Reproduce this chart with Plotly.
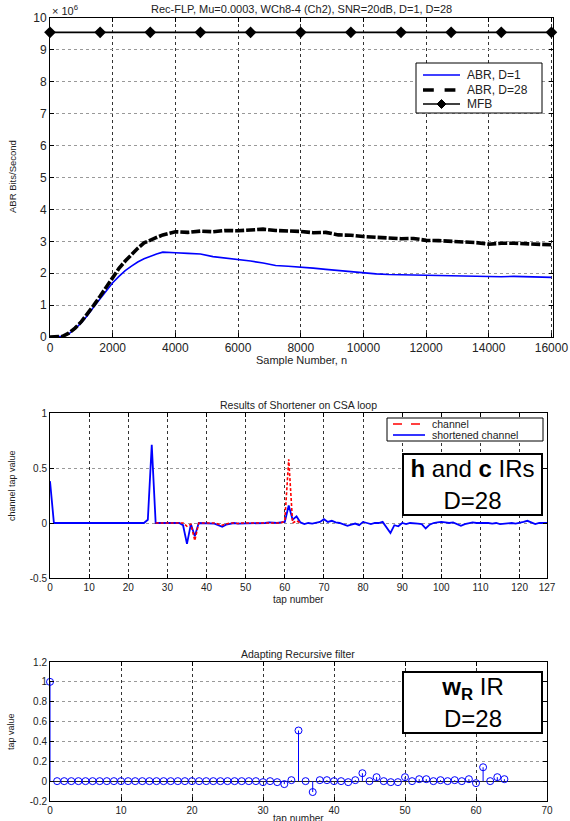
import plotly.graph_objects as go

W, H = 570, 821
FONT = "Liberation Sans, Arial, sans-serif"

# ---------------- Top chart data (ABR in units of 1e6 bits/s) ----------------
sample_n = [0, 200, 400, 600, 800, 1000, 1200, 1400, 1600, 1800, 2000, 2200, 2400, 2600,
            2800, 3000, 3200, 3400, 3600, 3800, 4000, 4400, 4800, 5200, 5600, 6000, 6400,
            6800, 7200, 7600, 8000, 8400, 8800, 9200, 9600, 10000, 10400, 10800, 11200,
            11600, 12000, 12400, 12800, 13200, 13600, 14000, 14400, 14800, 15200, 15600, 16000]
abr_d1 = [0.0, 0.0, 0.02, 0.10, 0.25, 0.45, 0.68, 0.95, 1.20, 1.45, 1.70, 1.90, 2.08, 2.22,
          2.35, 2.45, 2.53, 2.60, 2.66, 2.64, 2.64, 2.62, 2.60, 2.52, 2.48, 2.44, 2.38,
          2.32, 2.24, 2.22, 2.20, 2.16, 2.12, 2.08, 2.04, 2.00, 1.98, 1.96, 1.95,
          1.94, 1.93, 1.92, 1.92, 1.92, 1.91, 1.90, 1.89, 1.90, 1.89, 1.88, 1.87]
abr_d28 = [0.0, 0.0, 0.02, 0.12, 0.28, 0.48, 0.72, 1.00, 1.28, 1.58, 1.88, 2.15, 2.38, 2.60,
           2.78, 2.95, 3.02, 3.12, 3.20, 3.24, 3.30, 3.28, 3.32, 3.30, 3.34, 3.33, 3.36,
           3.38, 3.34, 3.33, 3.31, 3.27, 3.28, 3.20, 3.19, 3.15, 3.13, 3.12, 3.08,
           3.09, 3.03, 3.02, 3.00, 2.98, 2.96, 2.91, 2.94, 2.94, 2.93, 2.92, 2.89]
mfb_n = [0, 1600, 3200, 4800, 6400, 8000, 9600, 11200, 12800, 14400, 16000]
mfb_val = [9.55] * 11
top_yticks = [0, 1, 2, 3, 4, 5, 6, 7, 8, 9, 10]
top_xticks = [0, 2000, 4000, 6000, 8000, 10000, 12000, 14000, 16000]
top_legend_labels = ["ABR, D=1", "ABR, D=28", "MFB"]

# ---------------- Middle chart data ----------------
shortened_channel = [
    0.38, 0.0, 0.0, 0.0, 0.0, 0.0, 0.0, 0.0, 0.0, 0.0,            # 0-9
    0.0, 0.0, 0.0, 0.0, 0.0, 0.0, 0.0, 0.0, 0.0, 0.0,             # 10-19
    0.0, 0.0, 0.0, 0.0, 0.0, 0.03, 0.71, 0.0, 0.0, 0.0,           # 20-29
    0.0, 0.0, 0.005, 0.0, -0.02, -0.19, -0.01, -0.12, 0.0, 0.0,   # 30-39
    0.0, 0.0, -0.005, -0.02, -0.035, -0.015, -0.005, 0.0, -0.005, -0.005,  # 40-49
    0.0, -0.005, 0.0, 0.0, -0.005, 0.0, 0.005, 0.0, 0.0, 0.005,   # 50-59
    0.01, 0.16, 0.03, 0.06, 0.005, -0.01, 0.0, -0.005, 0.0, 0.01, # 60-69
    0.035, 0.01, 0.02, 0.005, 0.0, -0.01, -0.025, -0.015, -0.005, -0.02,  # 70-79
    0.01, 0.0, -0.01, 0.0, 0.0, 0.01, -0.04, -0.09, -0.02, -0.03, # 80-89
    0.0, -0.01, 0.0, 0.0, -0.005, -0.01, -0.05, -0.015, 0.0, 0.005,  # 90-99
    0.01, 0.005, 0.0, 0.005, -0.01, -0.025, -0.01, 0.0, 0.005, 0.0,  # 100-109
    0.0, 0.005, 0.0, -0.005, 0.0, -0.01, -0.005, 0.0, 0.0, -0.005,  # 110-119
    0.0, 0.01, 0.02, 0.005, -0.01, 0.0, 0.0, 0.0]                 # 120-127
channel_taps = list(range(27, 65))
channel = [0.0, 0.0, 0.0, 0.0, 0.0, 0.0, 0.0, 0.0, -0.03, -0.01,     # 27-36
           -0.16, 0.0, 0.0, 0.0, 0.0, 0.0, -0.01, -0.02, -0.01, 0.0,  # 37-46
           0.0, -0.005, 0.0, 0.0, 0.0, -0.005, 0.0, 0.0, 0.0, 0.0,   # 47-56
           0.0, 0.0, 0.0, 0.02, 0.58, 0.0, 0.02, 0.0]                 # 57-64
mid_xticks = [0, 10, 20, 30, 40, 50, 60, 70, 80, 90, 100, 110, 120, 127]
mid_yticks = [-0.5, 0, 0.5, 1]
mid_legend_labels = ["channel", "shortened channel"]

# ---------------- Bottom chart data ----------------
wr_taps = list(range(0, 65))
wr_vals = [1.0] + [0.0] * 29 + [
    -0.01, 0.0, -0.01, -0.03, 0.01, 0.51, 0.0, -0.11, 0.01, 0.01,   # 30-39
    0.0, 0.0, -0.01, 0.01, 0.08, 0.0, 0.04, 0.0, -0.01, -0.01,      # 40-49
    0.04, 0.0, 0.02, 0.02, 0.0, 0.01, 0.0, 0.01, 0.0, 0.02,         # 50-59
    -0.02, 0.14, 0.0, 0.04, 0.02]                                   # 60-64
bot_yticks = [-0.2, 0, 0.2, 0.4, 0.6, 0.8, 1, 1.2]
bot_xticks = [0, 10, 20, 30, 40, 50, 60, 70]


def px_x(p):
    return p / W


def px_y(p):
    return 1 - p / H


BLUE = "#0000ff"
fig = go.Figure()

# Top chart
fig.add_trace(go.Scatter(x=sample_n, y=abr_d1, mode="lines", name=top_legend_labels[0],
                         line=dict(color=BLUE, width=1.6), xaxis="x", yaxis="y"))
fig.add_trace(go.Scatter(x=sample_n, y=abr_d28, mode="lines", name=top_legend_labels[1],
                         line=dict(color="black", width=3.6, dash="9px,2px"),
                         xaxis="x", yaxis="y"))
fig.add_trace(go.Scatter(x=mfb_n, y=mfb_val, mode="lines+markers", name=top_legend_labels[2],
                         line=dict(color="black", width=1.6),
                         marker=dict(symbol="diamond", size=9, color="black"),
                         cliponaxis=False, xaxis="x", yaxis="y"))

# Middle chart
fig.add_trace(go.Scatter(x=list(range(len(shortened_channel))), y=shortened_channel,
                         mode="lines", name=mid_legend_labels[1],
                         line=dict(color=BLUE, width=1.8), xaxis="x2", yaxis="y2"))
fig.add_trace(go.Scatter(x=channel_taps, y=channel, mode="lines", name=mid_legend_labels[0],
                         line=dict(color="#ff0000", width=1.6, dash="3px,2px"),
                         xaxis="x2", yaxis="y2"))

# Bottom chart (stem)
stem_x, stem_y = [], []
for t, v in zip(wr_taps, wr_vals):
    stem_x += [t, t, None]
    stem_y += [0, v, None]
fig.add_trace(go.Scatter(x=stem_x, y=stem_y, mode="lines", name="stems",
                         line=dict(color=BLUE, width=1), xaxis="x3", yaxis="y3",
                         cliponaxis=False))
fig.add_trace(go.Scatter(x=wr_taps, y=wr_vals, mode="markers", name="w_R taps",
                         marker=dict(symbol="circle-open", size=7, color=BLUE,
                                     line=dict(width=1)),
                         xaxis="x3", yaxis="y3", cliponaxis=False))

axis_common = dict(showline=True, linecolor="black", linewidth=1, mirror="allticks",
                   ticks="inside", ticklen=4, tickcolor="black", showgrid=True,
                   zeroline=False, automargin=False,
                   tickfont=dict(family=FONT, color="#222"))
xgrid = dict(gridcolor="#333", griddash="dot", gridwidth=1)
ygrid = dict(gridcolor="#999", griddash="3px,3px", gridwidth=1)

fig.update_layout(
    width=W, height=H, margin=dict(l=0, r=0, t=0, b=0, autoexpand=False),
    paper_bgcolor="white", plot_bgcolor="white", showlegend=False,
    font=dict(family=FONT, color="#222"),
    xaxis=dict(domain=[px_x(50), px_x(553)], range=[0, 16050], anchor="y",
               tickvals=top_xticks, ticktext=[str(v) for v in top_xticks],
               **axis_common, **xgrid),
    yaxis=dict(domain=[px_y(337), px_y(18)], range=[0, 10], anchor="x",
               tickvals=top_yticks, ticktext=[str(v) for v in top_yticks],
               **axis_common, **ygrid),
    xaxis2=dict(domain=[px_x(50), px_x(547)], range=[0, 127], anchor="y2",
                tickvals=mid_xticks, ticktext=[str(v) for v in mid_xticks],
                **axis_common, **xgrid),
    yaxis2=dict(domain=[px_y(578), px_y(413)], range=[-0.5, 1], anchor="x2",
                tickvals=mid_yticks, ticktext=["-0.5", "0", "0.5", "1"],
                **axis_common, **ygrid),
    xaxis3=dict(domain=[px_x(50), px_x(547)], range=[0, 70], anchor="y3",
                tickvals=bot_xticks, ticktext=[str(v) for v in bot_xticks],
                **axis_common, **xgrid),
    yaxis3=dict(domain=[px_y(801), px_y(662)], range=[-0.2, 1.2], anchor="x3",
                tickvals=bot_yticks,
                ticktext=["-0.2", "0", "0.2", "0.4", "0.6", "0.8", "1", "1.2"],
                **axis_common, **ygrid),
)
fig.update_layout(xaxis_tickfont_size=12, yaxis_tickfont_size=12,
                  xaxis2_tickfont_size=10, yaxis2_tickfont_size=10,
                  xaxis3_tickfont_size=10, yaxis3_tickfont_size=10)
# Baseline of the stem plot
fig.update_layout(yaxis3_zeroline=True, yaxis3_zerolinecolor="#222",
                  yaxis3_zerolinewidth=1)

ann = []
shapes = []


def text_ann(x, y, text, size, angle=0, **kw):
    d = dict(x=px_x(x), y=px_y(y), xref="paper", yref="paper", text=text,
             showarrow=False, textangle=angle, xanchor="center", yanchor="middle",
             font=dict(family=FONT, size=size, color="#222"))
    d.update(kw)
    ann.append(d)


def pline(x0, y0, x1, y1, color, width, dash="solid"):
    shapes.append(dict(type="line", xref="paper", yref="paper", layer="above",
                       x0=px_x(x0), x1=px_x(x1), y0=px_y(y0), y1=px_y(y1),
                       line=dict(color=color, width=width, dash=dash)))


def prect(x0, y0, x1, y1):
    shapes.append(dict(type="rect", xref="paper", yref="paper", layer="above",
                       x0=px_x(x0), x1=px_x(x1), y0=px_y(y1), y1=px_y(y0),
                       fillcolor="white", line=dict(color="black", width=1)))


# Titles and axis labels
text_ann(301, 9, "Rec-FLP, Mu=0.0003, WCh8-4 (Ch2), SNR=20dB, D=1, D=28", 11)
text_ann(50, 10, "× 10<sup>6</sup>", 11, xanchor="left")
text_ann(12, 177, "ABR Bits/Second", 9.5, angle=-90)
text_ann(301, 360, "Sample Number, n", 11)

text_ann(298, 405, "Results of Shortener on CSA loop", 10.5)
text_ann(12, 486, "channel tap value", 9, angle=-90)
text_ann(298, 599, "tap number", 10)

text_ann(298, 654, "Adapting Recursive filter", 10.5)
text_ann(11, 732, "tap value", 9, angle=-90)
text_ann(298, 818, "tap number", 10)

# Top legend (drawn as a MATLAB-style legend box)
prect(416, 63, 542, 113)
pline(423, 75, 460, 75, BLUE, 1.6)
pline(423, 90, 460, 90, "black", 3.6, "dash")
pline(423, 104, 460, 104, "black", 1.6)
dx, dy = 4.5 / W, 4.5 / H
cx, cy = px_x(441.5), px_y(104)
shapes.append(dict(type="path", xref="paper", yref="paper", layer="above",
                   path=f"M {cx - dx} {cy} L {cx} {cy + dy} L {cx + dx} {cy} L {cx} {cy - dy} Z",
                   fillcolor="black", line=dict(color="black", width=1)))
for lbl, yy in zip(top_legend_labels, [75, 90, 104]):
    text_ann(465, yy, lbl, 12, xanchor="left")

# Middle legend
prect(387, 418, 543, 441)
pline(393, 424, 425, 424, "#ff0000", 1.6, "dash")
pline(393, 435, 425, 435, BLUE, 1.6)
for lbl, yy in zip(mid_legend_labels, [424, 435]):
    text_ann(430, yy, lbl, 10.5, xanchor="left")

# Boxed labels
box_common = dict(xref="paper", yref="paper", showarrow=False, bgcolor="white",
                  bordercolor="black", borderwidth=2, borderpad=0,
                  align="center", valign="middle", width=137, height=59,
                  font=dict(family=FONT, size=24, color="black"))
ann.append(dict(x=px_x(472.5), y=px_y(484.5), xanchor="center", yanchor="middle",
                text="<b>h</b> and <b>c</b> IRs<br>D=28", **box_common))
ann.append(dict(x=px_x(472.5), y=px_y(702), xanchor="center", yanchor="middle",
                text="<b>w<sub>R</sub></b> IR<br>D=28", **box_common))

fig.update_layout(annotations=ann, shapes=shapes)

fig.write_html("out.html", config={"displayModeBar": False},
               post_script="document.body.style.margin='0';document.body.style.overflow='hidden';")
